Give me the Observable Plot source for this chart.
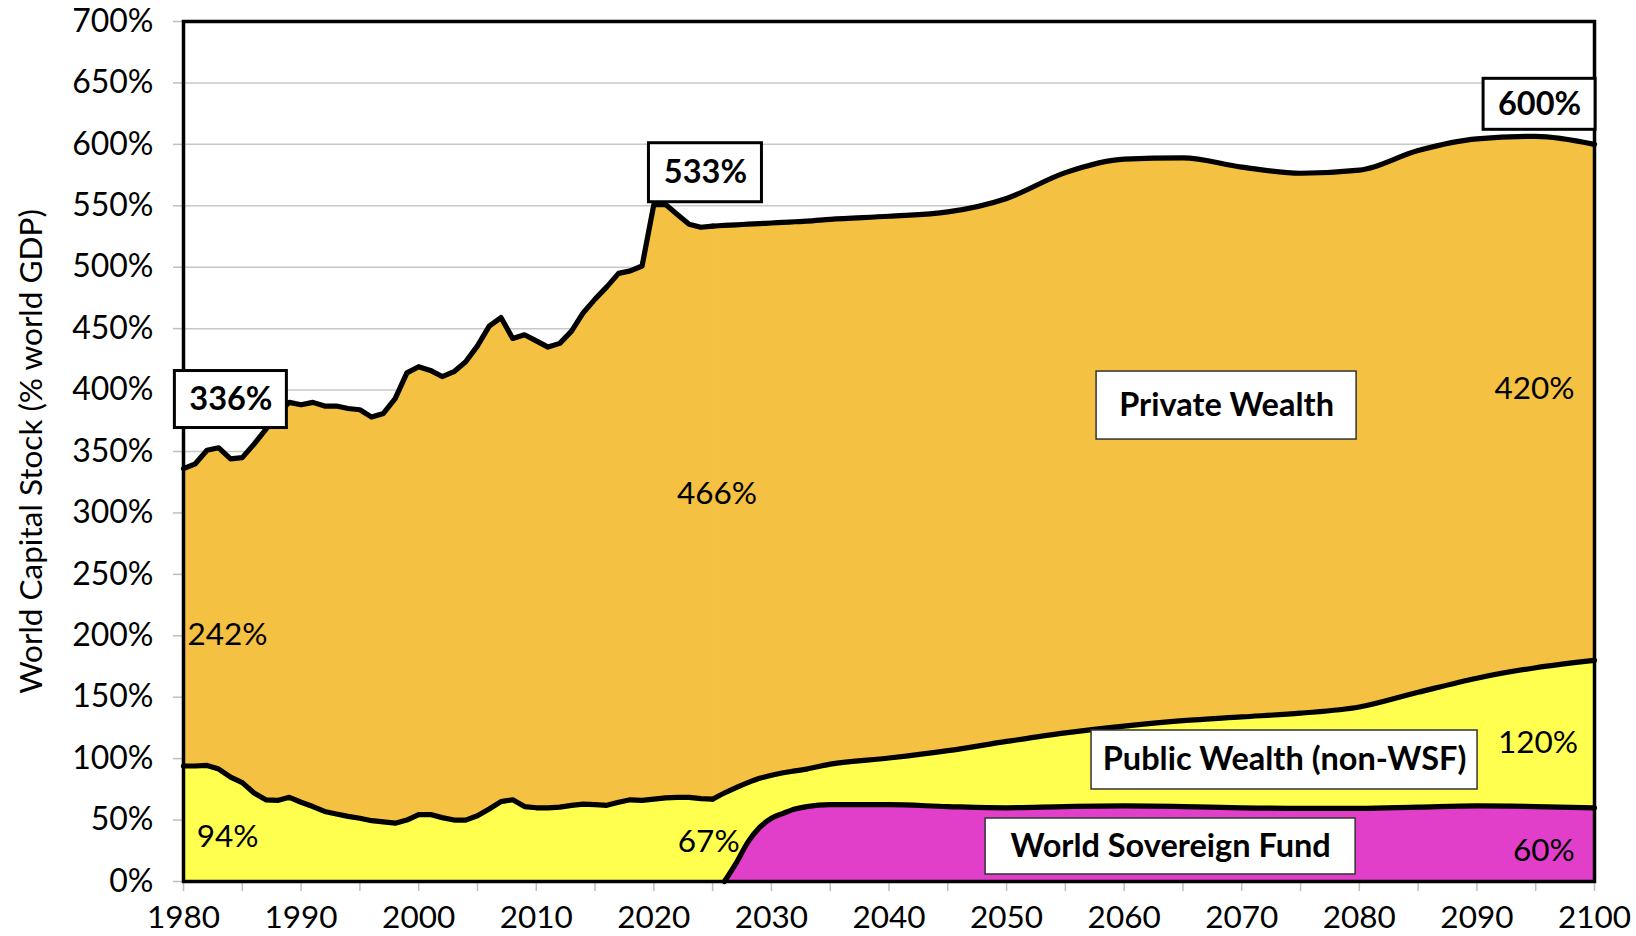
<!DOCTYPE html>
<html>
<head>
<meta charset="utf-8">
<script src="https://cdn.jsdelivr.net/npm/d3@7"></script>
<script src="https://cdn.jsdelivr.net/npm/@observablehq/plot@0.6"></script>
<style>
  html, body { margin: 0; padding: 0; background: #fff; }
  #chart { width: 1636px; height: 936px; }
</style>
</head>
<body>
<div id="chart"></div>
<script>
// ---------- data ----------
const histYears = [1980,1981,1982,1983,1984,1985,1986,1987,1988,1989,
                   1990,1991,1992,1993,1994,1995,1996,1997,1998,1999,
                   2000,2001,2002,2003,2004,2005,2006,2007,2008,2009,
                   2010,2011,2012,2013,2014,2015,2016,2017,2018,2019,
                   2020,2021,2022,2023,2024,2025];
// total world wealth (private + public), % of world GDP
const histTotal = [336,340,351,353,344,345,356,368,381,390,
                   388,390,387,387,385,384,378,381,393,414,
                   419,416,411,415,423,436,452,459,442,445,
                   440,435,438,448,463,474,484,495,497,501,
                   551,551,543,535,532.5,533.5];
// total public wealth, % of world GDP
const histPublic = [94,94,94.5,91.5,85,80.5,72,66.5,66,68.5,
                    64.5,61,57,55,53,51.5,49.5,48.5,47.5,50,
                    54.5,54.5,52,50,50,53.5,59,65,66.5,61,
                    60,60,60.5,62,63,62.5,62,64.5,66.5,66,
                    67,68,68.5,68.5,67.5,67];

const projYears  = [2025,2026,2027,2028,2029,2030,2031,2032,2033,2035,
                    2040,2045,2050,2055,2060,2065,2070,2075,2080,2085,
                    2090,2095,2100];
const projTotal  = [533.5,534,534.5,535,535.5,536,536.5,537,537.5,539,
                    541.5,545,556,577,588,589,581.5,576.5,579,595,
                    604.5,606.5,600];
const projPublic = [67,72,76.5,80.5,84,86.5,88.5,90,91.5,95.5,
                    100.5,106.5,114,121,126.5,131,134,137,142,154,
                    165.5,174,180];
const projWsf    = [null,0,15,32,44,51.5,55.5,59,61,62.5,
                    62.5,61,60,61,61.5,61,60,59.5,59.5,60.5,
                    61.5,61,60];

const yTicks = [0,50,100,150,200,250,300,350,400,450,500,550,600,650,700];
const xTicks = [1980,1985,1990,1995,2000,2005,2010,2015,2020,2025,2030,2035,2040,
                2045,2050,2055,2060,2065,2070,2075,2080,2085,2090,2095,2100];
const yTitle = "World Capital Stock (% world GDP)";
const seriesNames = ["Private Wealth", "Public Wealth (non-WSF)", "World Sovereign Fund"];

// annotation anchors (data units: year, percent)
const valueLabels = [
  {text: "242%", year: 1983.75, pct: 200.8},
  {text: "94%",  year: 1983.75, pct: 36.4},
  {text: "466%", year: 2025.38, pct: 315.4},
  {text: "67%",  year: 2024.67, pct: 31.9},
  {text: "420%", year: 2094.9,  pct: 400.9},
  {text: "120%", year: 2095.2,  pct: 112.6},
  {text: "60%",  year: 2095.7,  pct: 25.3}
];
const boxedLabels = [
  {text: "336%", year: 1984.03, pct: 392.3, kind: "value"},
  {text: "533%", year: 2024.39, pct: 576.9, kind: "value"},
  {text: "600%", year: 2095.33, pct: 632.6, kind: "value"},
  {text: seriesNames[0], year: 2068.71, pct: 387.4, kind: "series"},
  {text: seriesNames[1], year: 2073.64, pct: 98.9,  kind: "series"},
  {text: seriesNames[2], year: 2063.95, pct: 28.5,  kind: "series"}
];

// ---------- styles ----------
const COLORS = {priv: "#F4C142", pub: "#FFFF50", wsf: "#E13FCA"};
const BOX_SIZE = {"336%": [112, 57], "533%": [113, 59], "600%": [112, 51],
  "Private Wealth": [260, 68], "Public Wealth (non-WSF)": [386, 59], "World Sovereign Fund": [370, 56]};

// ---------- tables ----------
const hist = histYears.map((year, i) => ({year, total: histTotal[i], pub: histPublic[i]}));
const proj = projYears.map((year, i) => ({year, total: projTotal[i], pub: projPublic[i], wsf: projWsf[i]}));
const projW = proj.filter(d => d.wsf != null);

const LW = 5.2;
const plot = Plot.plot({
  width: 1636,
  height: 936,
  marginLeft: 183,
  marginRight: 42,
  marginTop: 21,
  marginBottom: 55,
  style: {fontFamily: "Lato", fontSize: "32px", background: "white", color: "black"},
  x: {domain: [1980, 2100], label: null},
  y: {domain: [0, 700], label: null},
  marks: [
    Plot.gridY({ticks: yTicks.filter(v => v > 0 && v < 700), stroke: "#c8c8c8", strokeOpacity: 1, strokeWidth: 1.5}),
    // private (top) band
    Plot.areaY(hist, {x: "year", y1: 0, y2: "total", fill: COLORS.priv, stroke: COLORS.priv, strokeWidth: 1}),
    Plot.areaY(proj, {x: "year", y1: 0, y2: "total", fill: COLORS.priv, stroke: COLORS.priv, strokeWidth: 1, curve: "monotone-x"}),
    // public non-WSF band
    Plot.areaY(hist, {x: "year", y1: 0, y2: "pub", fill: COLORS.pub, stroke: COLORS.pub, strokeWidth: 1}),
    Plot.areaY(proj, {x: "year", y1: 0, y2: "pub", fill: COLORS.pub, stroke: COLORS.pub, strokeWidth: 1, curve: "monotone-x"}),
    // world sovereign fund band
    Plot.areaY(projW, {x: "year", y1: 0, y2: "wsf", fill: COLORS.wsf, stroke: COLORS.wsf, strokeWidth: 1, curve: "monotone-x"}),
    // outlines
    Plot.lineY(hist, {x: "year", y: "total", stroke: "black", strokeWidth: LW, strokeLinejoin: "round", strokeLinecap: "round"}),
    Plot.lineY(proj, {x: "year", y: "total", stroke: "black", strokeWidth: LW, strokeLinejoin: "round", strokeLinecap: "round", curve: "monotone-x"}),
    Plot.lineY(hist, {x: "year", y: "pub", stroke: "black", strokeWidth: LW, strokeLinejoin: "round", strokeLinecap: "round"}),
    Plot.lineY(proj, {x: "year", y: "pub", stroke: "black", strokeWidth: LW, strokeLinejoin: "round", strokeLinecap: "round", curve: "monotone-x"}),
    Plot.lineY(projW, {x: "year", y: "wsf", stroke: "black", strokeWidth: LW, strokeLinejoin: "round", strokeLinecap: "round", curve: "monotone-x"}),
    // axes
    Plot.axisY({ticks: yTicks, tickFormat: d => d + "%", tickSize: 10, tickPadding: 20, stroke: "#bfbfbf", strokeWidth: 1.5, fontSize: 32, label: null}),
    Plot.axisX({ticks: xTicks, tickFormat: d => (d % 10 === 0 ? String(d) : ""), tickSize: 10, tickPadding: 14, stroke: "#bfbfbf", strokeWidth: 1.5, fontSize: 31.5, label: null}),
    Plot.frame({stroke: "black", strokeWidth: 3.5}),
    // y axis title
    Plot.text([yTitle], {frameAnchor: "left", rotate: -90, dx: -151.5, fontSize: 31.5, textAnchor: "middle"}),
    // plain value labels
    Plot.text(valueLabels, {x: "year", y: "pct", text: "text", fontSize: 31.5, fill: "black"}),
    // boxed labels (boxes added after render)
    Plot.text(boxedLabels, {x: "year", y: "pct", text: "text", fontSize: 32.5, fontWeight: "bold", fill: "black"})
  ]
});

document.getElementById("chart").append(plot);

// white boxes behind the boxed labels, centered on each label's scaled anchor
const sx = plot.scale("x"), sy = plot.scale("y");
const anyBoxed = Array.from(plot.querySelectorAll("text")).find(t => t.textContent === seriesNames[0]);
if (anyBoxed) {
  const textGroup = anyBoxed.parentNode;
  const ns = "http://www.w3.org/2000/svg";
  const g = document.createElementNS(ns, "g");
  boxedLabels.forEach(d => {
    const [w, h] = BOX_SIZE[d.text];
    const cx = sx.apply(d.year), cy = sy.apply(d.pct);
    const r = document.createElementNS(ns, "rect");
    r.setAttribute("x", cx - w / 2);
    r.setAttribute("y", cy - h / 2);
    r.setAttribute("width", w);
    r.setAttribute("height", h);
    r.setAttribute("fill", "white");
    r.setAttribute("stroke", d.kind === "value" ? "black" : "#333");
    r.setAttribute("stroke-width", d.kind === "value" ? 3 : 1.5);
    g.appendChild(r);
  });
  textGroup.parentNode.insertBefore(g, textGroup);
}
</script>
</body>
</html>
